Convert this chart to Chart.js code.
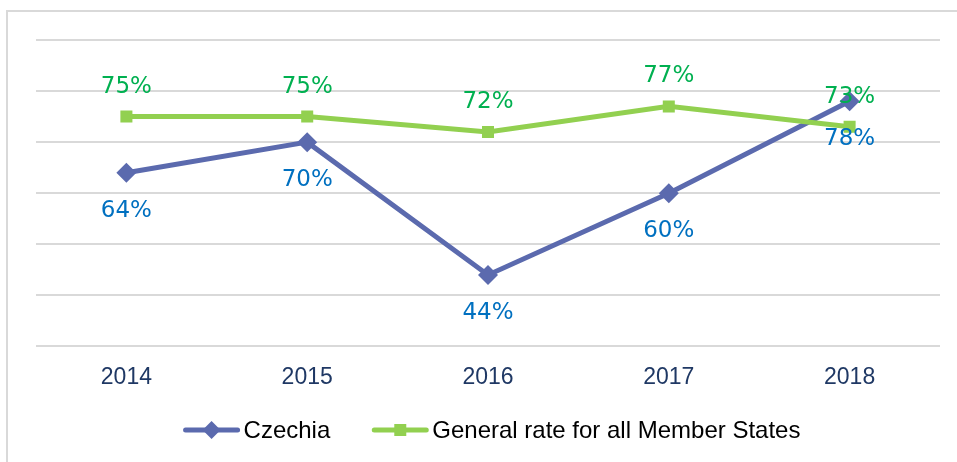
<!DOCTYPE html>
<html lang="en">
<head>
  <meta charset="UTF-8">
  <title>Czechia vs all Member States</title>
  <script src="https://cdn.jsdelivr.net/npm/chart.js"></script>
  <style>
    html, body { margin: 0; padding: 0; background: #fff; }
    #wrap { width: 957px; height: 462px; position: relative; }
  </style>
</head>
<body>
  <div id="wrap"><canvas id="chart"></canvas></div>
  <script>
    // data
    const years = ['2014', '2015', '2016', '2017', '2018'];
    const czechia = [64, 70, 44, 60, 78];
    const generalRate = [75, 75, 72, 77, 73];
    const seriesNames = ['Czechia', 'General rate for all Member States'];
    const yMin = 30, yMax = 90, yStep = 10;

    const BLUE = '#5b6aae', GREEN = '#92d050';

    // frame round the chart
    const framePlugin = {
      id: 'frame',
      beforeDraw(chart) {
        const ctx = chart.ctx;
        ctx.save();
        ctx.fillStyle = '#fff';
        ctx.fillRect(0, 0, chart.width, chart.height);
        ctx.strokeStyle = '#d9d9d9';
        ctx.lineWidth = 2;
        ctx.strokeRect(7, 11, 1000, 1000);
        ctx.restore();
      }
    };

    // value labels above / below the points
    const valueLabels = {
      id: 'valueLabels',
      afterDatasetsDraw(chart) {
        const ctx = chart.ctx;
        ctx.save();
        ctx.font = '23px "DejaVu Sans", sans-serif';
        ctx.textAlign = 'center';
        ctx.textBaseline = 'middle';
        chart.data.datasets.forEach((ds, i) => {
          const meta = chart.getDatasetMeta(i);
          ctx.fillStyle = ds.labelColor;
          meta.data.forEach((pt, j) => {
            ctx.fillText(ds.data[j] + '%', pt.x, pt.y + ds.labelOffset);
          });
        });
        ctx.restore();
      }
    };

    // legend drawn as line + marker + name, like the office chart
    const lineLegend = {
      id: 'lineLegend',
      afterDraw(chart) {
        const ctx = chart.ctx;
        const area = chart.chartArea;
        const lineLen = 56, textGap = 4, itemGap = 42, y = 430;
        ctx.save();
        ctx.font = '24px "Liberation Sans", Arial, sans-serif';
        ctx.textBaseline = 'middle';
        const dsList = chart.data.datasets;
        const widths = dsList.map(ds => lineLen + textGap + ctx.measureText(ds.label).width);
        const total = widths.reduce((a, b) => a + b, 0) + itemGap * (dsList.length - 1);
        let x = (area.left + area.right) / 2 + 4 - total / 2;
        dsList.forEach((ds, i) => {
          ctx.strokeStyle = ds.borderColor;
          ctx.lineWidth = 5;
          ctx.lineCap = 'round';
          ctx.beginPath();
          ctx.moveTo(x + 2, y);
          ctx.lineTo(x + lineLen - 2, y);
          ctx.stroke();
          ctx.fillStyle = ds.borderColor;
          const cx = x + lineLen / 2;
          ctx.beginPath();
          if (ds.pointStyle === 'rectRot') {
            const r = 9;
            ctx.moveTo(cx - r, y); ctx.lineTo(cx, y - r);
            ctx.lineTo(cx + r, y); ctx.lineTo(cx, y + r);
          } else {
            ctx.rect(cx - 6, y - 6, 12, 12);
          }
          ctx.closePath();
          ctx.fill();
          ctx.fillStyle = '#000';
          ctx.fillText(ds.label, x + lineLen + textGap, y + 1);
          x += widths[i] + itemGap;
        });
        ctx.restore();
      }
    };

    new Chart(document.getElementById('chart'), {
      type: 'line',
      data: {
        labels: years,
        datasets: [
          {
            label: seriesNames[0], data: czechia,
            borderColor: BLUE, backgroundColor: BLUE, borderWidth: 5,
            pointStyle: 'rectRot', pointRadius: 10, pointBorderWidth: 0,
            labelColor: '#0070c0', labelOffset: 38, order: 1
          },
          {
            label: seriesNames[1], data: generalRate,
            borderColor: GREEN, backgroundColor: GREEN, borderWidth: 5,
            pointStyle: 'rect', pointRadius: 8.5, pointBorderWidth: 0,
            labelColor: '#00b050', labelOffset: -30, order: 0
          }
        ]
      },
      options: {
        responsive: true,
        maintainAspectRatio: false,
        animation: false,
        layout: { padding: { left: 36, right: 17, top: 40, bottom: 62 } },
        plugins: {
          legend: { display: false },
          tooltip: { enabled: false }
        },
        scales: {
          x: {
            offset: true,
            grid: { display: false },
            border: { display: false },
            ticks: { color: '#1f3864', padding: 9, font: { family: '"Liberation Sans", Arial, sans-serif', size: 23 } }
          },
          y: {
            min: yMin, max: yMax,
            ticks: { display: false, stepSize: yStep },
            grid: { color: '#d9d9d9', lineWidth: 2, drawTicks: false },
            border: { display: false }
          }
        }
      },
      plugins: [framePlugin, valueLabels, lineLegend]
    });
  </script>
</body>
</html>
